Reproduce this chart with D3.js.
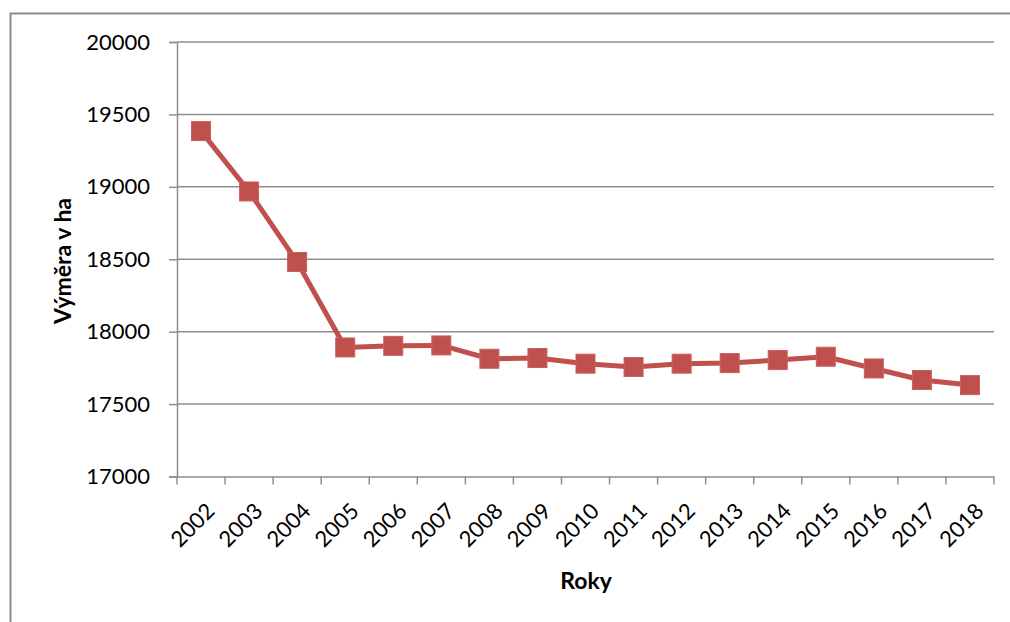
<!DOCTYPE html>
<html>
<head>
<meta charset="utf-8">
<script src="https://cdn.jsdelivr.net/npm/d3@7"></script>
<style>
  html, body { margin: 0; padding: 0; background: #fff; }
  svg { display: block; }
  text { font-family: Lato, "Open Sans", sans-serif; fill: #000; }
</style>
</head>
<body>
<svg id="chart" width="1010" height="622"></svg>
<script>
// Výměra (ha) po jednotlivých letech
const years = ["2002","2003","2004","2005","2006","2007","2008","2009","2010",
               "2011","2012","2013","2014","2015","2016","2017","2018"];
const area = [19385, 18968, 18481, 17891, 17902, 17905, 17813, 17818, 17779,
              17756, 17779, 17783, 17804, 17827, 17746, 17666, 17631];
const yTicks = [17000, 17500, 18000, 18500, 19000, 19500, 20000];

const svg = d3.select("#chart");
const margin = { left: 177, right: 994, top: 42, bottom: 476.5 };

// outer chart frame (left and top edges visible)
svg.append("rect")
  .attr("x", 10.5).attr("y", 13.5)
  .attr("width", 1010).attr("height", 700)
  .attr("fill", "none").attr("stroke", "#8c8c8c").attr("stroke-width", 2);

const x = d3.scaleBand().domain(years).range([margin.left, margin.right]).padding(0);
const y = d3.scaleLinear().domain([17000, 20000]).range([margin.bottom, margin.top]);

// horizontal gridlines
svg.append("g")
  .selectAll("line")
  .data(yTicks.slice(1))
  .join("line")
  .attr("x1", margin.left).attr("x2", margin.right)
  .attr("y1", d => y(d)).attr("y2", d => y(d))
  .attr("stroke", "#8e8e8e").attr("stroke-width", 1.5);

// y axis
const yAxis = svg.append("g")
  .attr("transform", `translate(${margin.left},0)`)
  .call(d3.axisLeft(y).tickValues(yTicks).tickSize(8).tickPadding(19).tickFormat(d3.format("d")));
yAxis.select(".domain").attr("stroke", "#8e8e8e").attr("stroke-width", 1.5);
yAxis.selectAll(".tick line").attr("stroke", "#8e8e8e").attr("stroke-width", 1.5);
yAxis.selectAll(".tick text")
  .attr("font-size", 22).attr("font-family", "Lato, sans-serif").attr("fill", "#000");

// x axis
const xAxis = svg.append("g")
  .attr("transform", `translate(0,${margin.bottom})`)
  .call(d3.axisBottom(x).tickSize(0).tickFormat(""));
xAxis.select(".domain").attr("stroke", "#8e8e8e").attr("stroke-width", 1.5);

// category boundary tick marks
const boundaries = years.map(d => x(d)).concat([x(years[years.length - 1]) + x.bandwidth()]);
svg.append("g")
  .selectAll("line")
  .data(boundaries)
  .join("line")
  .attr("x1", d => d).attr("x2", d => d)
  .attr("y1", margin.bottom).attr("y2", margin.bottom + 8)
  .attr("stroke", "#8e8e8e").attr("stroke-width", 1.5);

// rotated year labels
svg.append("g")
  .selectAll("text")
  .data(years)
  .join("text")
  .attr("transform", d => `translate(${x(d) + x.bandwidth() / 2 + 15},${margin.bottom + 36}) rotate(-45)`)
  .attr("text-anchor", "end")
  .attr("font-size", 22)
  .text(d => d);

// data line
const cx = d => x(d) + x.bandwidth() / 2;
const line = d3.line()
  .x((d, i) => cx(years[i]))
  .y(d => y(d));

svg.append("path")
  .datum(area)
  .attr("d", line)
  .attr("fill", "none")
  .attr("stroke", "#c0504d")
  .attr("stroke-width", 5)
  .attr("stroke-linejoin", "round");

// square markers
const m = 19;
svg.append("g")
  .selectAll("rect")
  .data(area)
  .join("rect")
  .attr("x", (d, i) => cx(years[i]) - m / 2)
  .attr("y", d => y(d) - m / 2)
  .attr("width", m).attr("height", m)
  .attr("fill", "#c0504d")
  .attr("stroke", "#c9605d").attr("stroke-width", 1);

// axis titles
svg.append("text")
  .attr("x", 586).attr("y", 589)
  .attr("text-anchor", "middle")
  .attr("font-size", 23).attr("font-weight", "bold")
  .text("Roky");

svg.append("text")
  .attr("transform", "translate(71,261) rotate(-90)")
  .attr("text-anchor", "middle")
  .attr("font-size", 23).attr("font-weight", "bold")
  .text("Výměra v ha");
</script>
</body>
</html>
